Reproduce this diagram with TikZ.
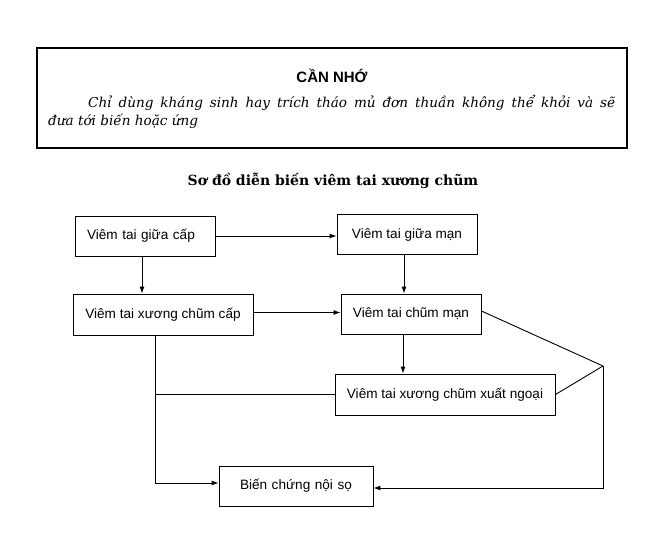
\documentclass[tikz,border=0pt]{standalone}
\usepackage{fontspec}
\setmainfont{Liberation Sans}
\newfontfamily\serifit{DejaVu Serif}
\usetikzlibrary{arrows.meta,calc}
\tikzset{
  flowbox/.style={draw, line width=0.9pt, minimum height=40pt, inner sep=0pt,
    font=\fontsize{13.6}{16}\selectfont},
  link/.style={line width=0.9pt},
  arr/.style={line width=0.9pt, -{Latex[length=7pt,width=5pt]}},
}
\begin{document}
\begin{tikzpicture}[x=1pt,y=-1pt]
\useasboundingbox (0,0) rectangle (650,537);
% reminder box
\draw[line width=1.1pt] (37,48) rectangle (627,148);
\node[font=\bfseries\fontsize{15}{18}\selectfont] (head) at (332,76) {CẦN NHỚ};
\node[anchor=base west, inner sep=0pt, font=\serifit\itshape\fontsize{13.6}{16}\selectfont] (l1) at (88,107.5)
  {\makebox[527pt][s]{Chỉ dùng kháng sinh hay trích tháo mủ đơn thuần không thể khỏi và sẽ}};
\node[anchor=base west, inner sep=0pt, font=\serifit\itshape\fontsize{13.6}{16}\selectfont] (l2) at (48,126)
  {đưa tới biến hoặc ứng};
% title
\node[anchor=base, inner sep=0pt, font=\serifit\bfseries\fontsize{14}{16}\selectfont] (title) at (333,186)
  {Sơ đồ diễn biến viêm tai xương chũm};
% boxes
\node[flowbox, text width=116pt, inner xsep=12pt, align=left] (A) at (145,236) {Viêm tai giữa cấp};
\node[flowbox, minimum width=140pt] (B) at (407,234.5) {Viêm tai giữa mạn};
\node[flowbox, minimum width=180pt, minimum height=41pt] (C) at (163,314.5) {Viêm tai xương chũm cấp};
\node[flowbox, minimum width=140pt] (D) at (411,314) {Viêm tai chũm mạn};
\node[flowbox, minimum width=220pt, minimum height=41pt] (E) at (445,394.5) {Viêm tai xương chũm xuất ngoại};
\node[flowbox, text width=112pt, inner xsep=21pt, align=left] (F) at (296,486) {Biến chứng nội sọ};
% junction points
\coordinate (P) at (603,366);
\coordinate (Q) at ($(C.south)+(-8,0)$);
% connectors
\draw[arr] (A.east) -- (A.east -| B.west);
\draw[arr] ([xshift=-3pt]A.south) -- ([xshift=-3pt]A.south |- C.north);
\draw[arr] ([xshift=-3pt]B.south) -- ([xshift=-3pt]B.south |- D.north);
\draw[arr] ([yshift=2pt]C.east) -- ([yshift=2pt]C.east -| D.west);
\draw[arr] ([xshift=-8pt]D.south) -- ([xshift=-8pt]D.south |- E.north);
\draw[link] ([yshift=3pt]D.east) -- (P);
\draw[link] (E.east) -- (P);
\draw[arr] (P) |- ([yshift=-2pt]F.east);
\draw[arr] (Q) |- ([yshift=3pt]F.west);
\draw[link] (E.west) -- (E.west -| Q);
\end{tikzpicture}
\end{document}
